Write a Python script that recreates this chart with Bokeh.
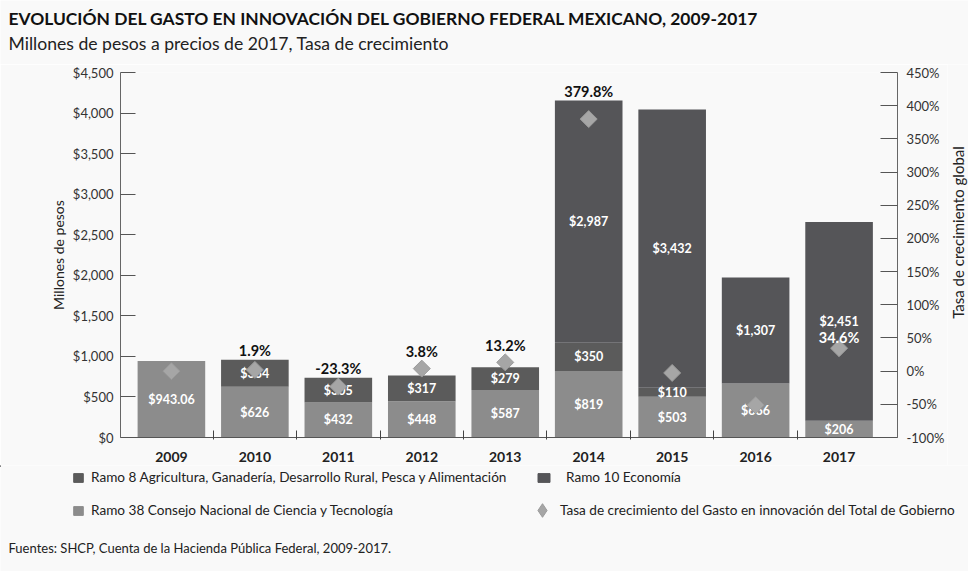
import math
from bokeh.plotting import figure
from bokeh.layouts import column, row
from bokeh.models import (Range1d, LinearAxis, FixedTicker, NumeralTickFormatter,
                          PrintfTickFormatter, Label, Legend, LegendItem, ColumnDataSource)
from bokeh.embed import file_html
from bokeh.resources import INLINE
from bokeh.core.properties import value

# ---------------- data ----------------
years = ["2009", "2010", "2011", "2012", "2013", "2014", "2015", "2016", "2017"]
ramo38 = [943.06, 626, 432, 448, 587, 819, 503, 666, 206]      # Consejo Nacional de Ciencia y Tecnología
ramo8 = [0, 334, 305, 317, 279, 350, 110, 0, 0]                 # Agricultura, Ganadería, ...
ramo10 = [0, 0, 0, 0, 0, 2987, 3432, 1307, 2451]                # Economía
growth = [0.0, 1.9, -23.3, 3.8, 13.2, 379.8, -2.7, -51.2, 34.6]  # % crecimiento global
growth_text = ["", "1.9%", "-23.3%", "3.8%", "13.2%", "379.8%", "", "", "34.6%"]
left_ticks = [0, 500, 1000, 1500, 2000, 2500, 3000, 3500, 4000, 4500]
right_ticks = [-100, -50, 0, 50, 100, 150, 200, 250, 300, 350, 400, 450]

TITLE = "EVOLUCIÓN DEL GASTO EN INNOVACIÓN DEL GOBIERNO FEDERAL MEXICANO, 2009-2017"
SUBTITLE = "Millones de pesos a precios de 2017, Tasa de crecimiento"
SOURCE = "Fuentes: SHCP, Cuenta de la Hacienda Pública Federal, 2009-2017."
LBL8 = "Ramo 8 Agricultura, Ganadería, Desarrollo Rural, Pesca y Alimentación"
LBL10 = "Ramo 10 Economía"
LBL38 = "Ramo 38 Consejo Nacional de Ciencia y Tecnología"
LBLG = "Tasa de crecimiento del Gasto en innovación del Total de Gobierno"
YLAB_L = "Millones de pesos"
YLAB_R = "Tasa de crecimiento global"

FONT = "Lato"
BG = "#f9f9f9"
C38 = "#8c8c8c"
C8 = "#5b5b5b"
C10 = "#555558"
CDIA = "#a6a6a6"
CDIA_LINE = "#9a9a9a"
Y0, Y1 = 0, 4500
P0, P1 = -100, 450

W = 968
HEAD_H = 64
FOOT_H = 106
MAIN_H = 8 + 365 + 28
SIDE_W = 21
LEG_FS = "13.6px"


def money(v):
    if abs(v - round(v)) > 1e-9:
        return "${:,.2f}".format(v)
    return "${:,}".format(int(round(v)))


def blank(w, h, flip=True):
    f = figure(width=w, height=h, x_range=Range1d(0, w),
               y_range=Range1d(h, 0) if flip else Range1d(0, h),
               x_axis_type=None, y_axis_type=None, min_border=0,
               output_backend="svg", toolbar_location=None,
               background_fill_color=BG, border_fill_color=BG)
    f.outline_line_color = None
    try:
        f.frame_align = False
    except Exception:
        pass
    return f


# ---------------- header ----------------
head = blank(W, HEAD_H)
head.add_layout(Label(x=8, y=18, text=TITLE, text_font=FONT, text_font_size="17.4px",
                      text_font_style="bold", text_color="#111111", text_baseline="middle"))
head.add_layout(Label(x=8, y=43, text=SUBTITLE, text_font=FONT, text_font_size="17.6px",
                      text_color="#222222", text_baseline="middle"))

# ---------------- main chart ----------------
xs = list(range(len(years)))
src = ColumnDataSource(dict(x=xs, r38=ramo38, r8=ramo8, r10=ramo10))

p = figure(frame_width=777, frame_height=365,
           min_border_left=120, min_border_right=W - SIDE_W - 120 - 777,
           min_border_top=8, min_border_bottom=28,
           x_range=Range1d(-0.61, 8.70), y_range=Range1d(Y0, Y1),
           output_backend="svg", toolbar_location=None,
           background_fill_color=BG, border_fill_color=BG)
p.outline_line_color = None
p.grid.visible = False
p.extra_y_ranges = {"pct": Range1d(P0, P1)}

bars = p.vbar_stack(["r38", "r8", "r10"], x="x", width=0.81, source=src,
                    color=[C38, C8, C10], line_color=None)

# segment value labels
lx, ly, lt = [], [], []
for i in xs:
    base = 0.0
    for v in (ramo38[i], ramo8[i], ramo10[i]):
        if v > 0:
            lx.append(i)
            ly.append(base + v / 2.0)
            lt.append(money(v))
        base += v
p.text(x=lx, y=ly, text=lt, text_color="white", text_align="center",
       text_baseline="middle", text_font=value(FONT), text_font_size="12.5px",
       text_font_style="bold")

# growth diamonds
p.scatter(x=xs, y=growth, y_range_name="pct", marker="square", angle=math.pi / 4,
          size=12, fill_color=CDIA, line_color=CDIA_LINE, line_width=1)

# growth labels: outside the bar -> above bar top / diamond; inside the bar -> above diamond
inside = [y == "2017" for y in years]
px_per_pct = 365.0 / (P1 - P0)
ox, oy, ot, ix, iy, it = [], [], [], [], [], []
for i in xs:
    if not growth_text[i]:
        continue
    tot = ramo38[i] + ramo8[i] + ramo10[i]
    top_pct = P0 + tot / (Y1 - Y0) * (P1 - P0)
    if inside[i]:
        ix.append(i); iy.append(growth[i]); it.append(growth_text[i])
    else:
        ox.append(i); oy.append(max(growth[i] + 8 / px_per_pct, top_pct)); ot.append(growth_text[i])
p.text(x=ox, y=oy, text=ot, y_range_name="pct", y_offset=-9,
       text_color="#111111", text_align="center", text_baseline="middle",
       text_font=value(FONT), text_font_size="14.5px", text_font_style="bold")
p.text(x=ix, y=iy, text=it, y_range_name="pct", y_offset=-11,
       text_color="white", text_align="center", text_baseline="middle",
       text_font=value(FONT), text_font_size="14.5px", text_font_style="bold")

# axes
xa = p.xaxis[0]
xa.ticker = FixedTicker(ticks=xs, minor_ticks=[i + 0.5 for i in xs[:-1]])
xa.major_label_overrides = {i: y for i, y in enumerate(years)}
xa.major_tick_line_color = None
xa.minor_tick_in = 7
xa.minor_tick_out = 2
xa.minor_tick_line_color = "#444444"
xa.axis_line_color = "#555555"
xa.major_label_text_font = FONT
xa.major_label_text_font_size = "14px"
xa.major_label_text_font_style = "bold"
xa.major_label_text_color = "#222222"
xa.major_label_standoff = 8

ya = p.yaxis[0]
ya.ticker = FixedTicker(ticks=left_ticks)
ya.formatter = NumeralTickFormatter(format="$0,0")
ya.minor_tick_line_color = None
ya.major_tick_in = 15
ya.major_tick_out = 0
ya.major_tick_line_color = "#555555"
ya.axis_line_color = "#666666"
ya.major_label_text_font = FONT
ya.major_label_text_font_size = "13px"
ya.major_label_text_color = "#333333"
ya.major_label_standoff = 7
ya.axis_label = YLAB_L
ya.axis_label_text_font = FONT
ya.axis_label_text_font_size = "14px"
ya.axis_label_text_font_style = "normal"
ya.axis_label_text_color = "#222222"
ya.axis_label_standoff = 3

ra = LinearAxis(y_range_name="pct", ticker=FixedTicker(ticks=right_ticks),
                formatter=PrintfTickFormatter(format="%d%%"))
ra.minor_tick_line_color = None
ra.major_tick_in = 17
ra.major_tick_out = 0
ra.major_tick_line_color = "#555555"
ra.axis_line_color = "#666666"
ra.major_label_text_font = FONT
ra.major_label_text_font_size = "13px"
ra.major_label_text_color = "#333333"
ra.major_label_standoff = 9
p.add_layout(ra, "right")

# title of the right scale, reading bottom-to-top, in a narrow strip beside the chart
side = blank(SIDE_W, MAIN_H, flip=False)
side.add_layout(Label(x=SIDE_W / 2.0, y=MAIN_H - (232 - HEAD_H), text=YLAB_R, angle=math.pi / 2,
                      text_font=FONT, text_font_size="15px", text_color="#222222",
                      text_align="center", text_baseline="middle"))

# ---------------- footer: legend + source ----------------
foot = blank(W, FOOT_H)
# invisible proxies (outside the footer's range) that carry the series styles for the legend
d8 = foot.vbar(x=[-1000], top=[1], width=1, color=C8)
d10 = foot.vbar(x=[-1000], top=[1], width=1, color=C10)
d38 = foot.vbar(x=[-1000], top=[1], width=1, color=C38)
dg = foot.scatter(x=[-1000], y=[1], marker="diamond", size=12,
                  fill_color=CDIA, line_color=CDIA_LINE)


def make_legend(items, vx, top, gw, gh, lh, standoff, n):
    h = n * lh + (n - 1) * (33 - lh)
    return Legend(items=items, location=(vx, FOOT_H - top - h), orientation="vertical",
                  padding=0, margin=0, spacing=33 - lh, label_height=lh,
                  glyph_width=gw, glyph_height=gh, label_standoff=standoff,
                  border_line_color=None, background_fill_alpha=0,
                  label_text_font=FONT, label_text_font_size=LEG_FS,
                  label_text_color="#222222")


# rows are centred at 12 and 45 px below the top of the footer
foot.add_layout(make_legend([LegendItem(label=LBL8, renderers=[d8]),
                             LegendItem(label=LBL38, renderers=[d38])],
                            72, 2, 12, 11, 20, 7, 2))
foot.add_layout(make_legend([LegendItem(label=LBL10, renderers=[d10])],
                            536, 2, 15, 11, 20, 15, 1))
foot.add_layout(make_legend([LegendItem(label=LBLG, renderers=[dg])],
                            525, 45 - 17, 34, 34, 34, 1, 1))
foot.add_layout(Label(x=8, y=82, text=SOURCE, text_font=FONT, text_font_size="13px",
                      text_color="#222222", text_baseline="middle"))

layout = column(head, row(p, side, spacing=0), foot, spacing=0)
open("out.html", "w").write(file_html(layout, INLINE))
